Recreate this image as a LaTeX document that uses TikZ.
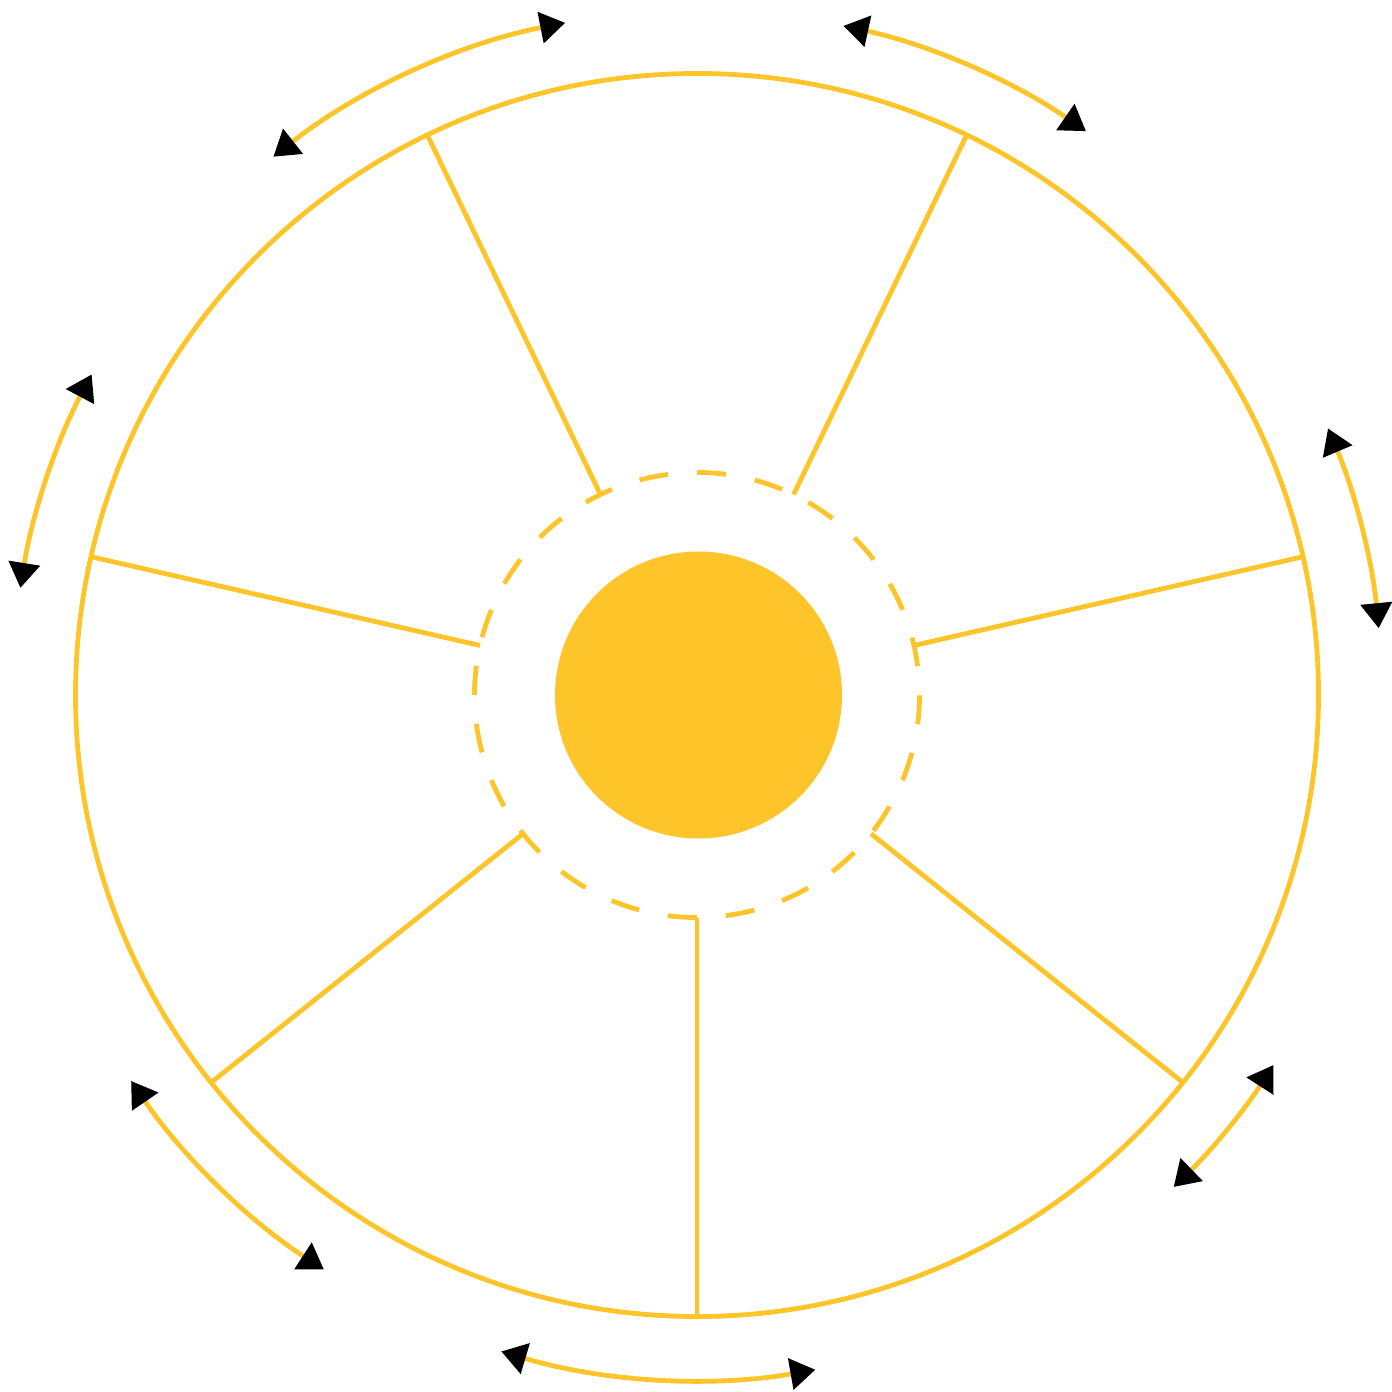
\documentclass[tikz,border=0pt]{standalone}
\usepackage{xcolor}
\usetikzlibrary{arrows.meta}

\definecolor{sunYellow}{RGB}{253,197,42}

\begin{document}
\begin{tikzpicture}
[rimDecorate/.style={draw=sunYellow,line width=0.048cm},%
    spokeDecorate/.style={draw=sunYellow,line width=0.048cm},%
    ringDecorate/.style={draw=sunYellow,line width=0.048cm,dash pattern=on 0.29cm off 0.2925cm},%
    hubDecorate/.style={fill=sunYellow},%
    arrowDecorate/.style={sunYellow,line width=0.048cm,{Triangle[length=0.25cm,width=0.31cm,color=black]}-{Triangle[length=0.25cm,width=0.31cm,color=black]}}]
    \useasboundingbox (-6.97,-6.96) rectangle (6.95,6.95);
    %% hub and rings
    \fill[hubDecorate] (0.015,0) circle (1.435);
    \draw[ringDecorate] (7.5:2.225) arc[start angle=7.5, end angle=367.5, radius=2.225];
    \draw[rimDecorate] (0,0) circle (6.215);
    %% spokes
    \foreach \i in {0,...,6}
    {
        \coordinate (in\i) at (-90+\i*360/7:2.225);
        \coordinate (out\i) at (-90+\i*360/7:6.215);
        \draw[spokeDecorate] (in\i) -- (out\i);
    }
    %% arrows round the rim
    \foreach \startangle/\endangle in {101.1/128.2, 55.4/77.65, 152.1/171, 5.6/22.9, -45.9/-32.7, -106.6/-80.05, -145.7/-123}
    {
        \draw[arrowDecorate] (\startangle:6.85) arc[start angle=\startangle, end angle=\endangle, radius=6.85];
    };
\end{tikzpicture}
\end{document}
